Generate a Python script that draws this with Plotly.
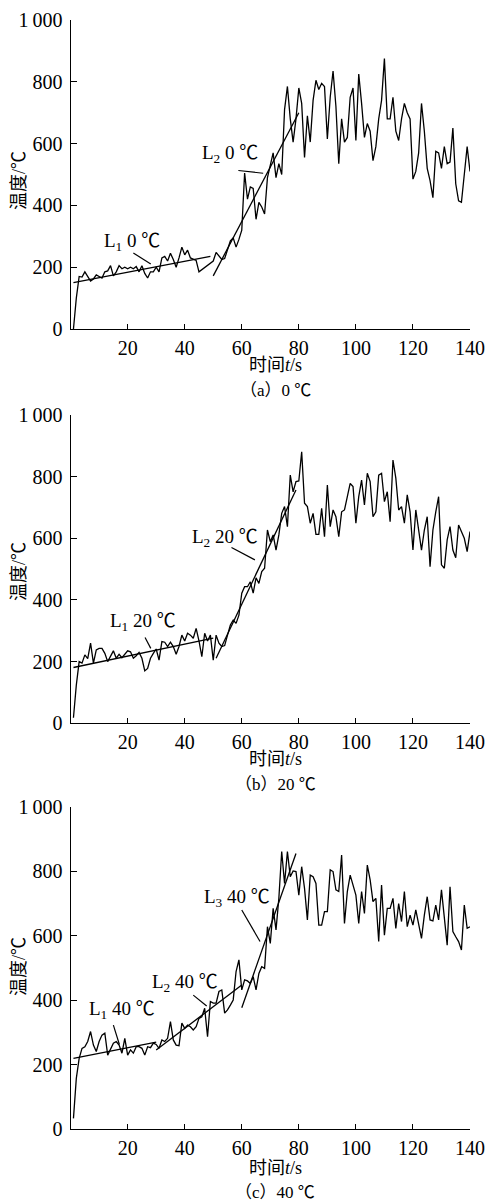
import plotly.graph_objects as go

# ---------------- data ----------------
t_vals = list(range(1, 141))

temp_a = [0, 100, 170, 168, 185, 170, 155, 162, 175, 170,
          165, 185, 188, 205, 172, 185, 205, 195, 200, 195,
          200, 195, 202, 185, 205, 180, 165, 185, 185, 200,
          185, 230, 235, 220, 245, 225, 200, 230, 265, 240,
          255, 230, 225, 222, 185, 192, 200, 207, 212, 220,
          248, 235, 225, 228, 260, 285, 295, 265, 290, 320,
          505, 420, 460, 455, 355, 410, 395, 372, 490, 530,
          570, 490, 535, 500, 710, 785, 680, 605, 680, 780,
          730, 555, 690, 605, 740, 805, 775, 795, 785, 615,
          750, 835, 720, 535, 680, 605, 620, 750, 780, 610,
          825, 730, 620, 665, 640, 545, 590, 680, 740, 875,
          680, 680, 750, 640, 610, 680, 730, 700, 680, 485,
          510, 570, 730, 640, 520, 480, 425, 575, 570, 520,
          590, 535, 540, 650, 470, 415, 410, 500, 590, 510]

temp_b = [18, 124, 200, 195, 222, 210, 260, 195, 238, 243,
          243, 227, 200, 216, 235, 211, 224, 213, 224, 235,
          232, 211, 219, 230, 211, 170, 178, 211, 227, 241,
          205, 265, 263, 249, 263, 249, 224, 249, 286, 267,
          292, 286, 276, 308, 267, 216, 292, 267, 286, 205,
          286, 260, 249, 252, 286, 319, 335, 324, 351, 422,
          443, 443, 459, 422, 472, 454, 492, 503, 627, 589,
          611, 562, 611, 681, 703, 638, 805, 751, 784, 786,
          881, 714, 703, 649, 681, 613, 613, 697, 605, 773,
          638, 692, 670, 605, 686, 692, 735, 778, 768, 649,
          735, 789, 708, 811, 784, 670, 686, 805, 811, 719,
          751, 654, 854, 795, 692, 703, 649, 741, 686, 562,
          692, 632, 562, 627, 670, 508, 627, 686, 735, 514,
          503, 595, 638, 562, 537, 643, 622, 600, 557, 622]

temp_c = [34, 158, 220, 251, 256, 272, 303, 261, 241, 272,
          292, 298, 230, 251, 267, 272, 261, 236, 282, 230,
          246, 236, 256, 256, 251, 230, 256, 253, 267, 263,
          251, 277, 272, 282, 334, 277, 261, 259, 329, 313,
          323, 318, 308, 318, 344, 349, 375, 287, 396, 391,
          391, 427, 432, 360, 370, 385, 401, 489, 525, 432,
          463, 460, 452, 473, 432, 483, 504, 499, 628, 576,
          685, 618, 716, 861, 762, 861, 783, 801, 799, 726,
          814, 747, 649, 788, 783, 762, 633, 633, 675, 675,
          804, 799, 742, 737, 850, 638, 737, 788, 757, 726,
          638, 737, 669, 819, 773, 706, 716, 582, 757, 602,
          685, 685, 716, 623, 700, 644, 737, 628, 664, 633,
          680, 638, 592, 664, 721, 649, 646, 695, 649, 742,
          649, 571, 752, 613, 597, 582, 556, 695, 623, 628]

# fitted lines (start t, end t, start T, end T)
fit_a_t = [[1, 49], [50, 80]]
fit_a_T = [[150, 235], [172, 700]]
fit_b_t = [[1, 50], [51, 79]]
fit_b_T = [[181, 276], [211, 757]]
fit_c_t = [[1, 30], [30, 60], [60, 79]]
fit_c_T = [[220, 270], [246, 447], [377, 855]]

fit_labels_a = ["L<sub>1</sub> 0 ℃", "L<sub>2</sub> 0 ℃"]
fit_labels_b = ["L<sub>1</sub> 20 ℃", "L<sub>2</sub> 20 ℃"]
fit_labels_c = ["L<sub>1</sub> 40 ℃", "L<sub>2</sub> 40 ℃", "L<sub>3</sub> 40 ℃"]

captions = ["（a）0 ℃", "（b）20 ℃", "（c）40 ℃"]
x_ticks = [20, 40, 60, 80, 100, 120, 140]
y_ticks = [0, 200, 400, 600, 800, 1000]
y_tick_text = ["0", "200", "400", "600", "800", "1\u2009000"]

# ---------------- layout constants ----------------
W, H = 487, 1201
FONT = "Liberation Serif, Noto Sans CJK SC"
X_LEFT, X_RIGHT = 70.6, 470.0
TITLE_X = 275
panels_px = [(20.0, 329.0), (415.0, 723.3), (806.7, 1129.3)]
xtitle_px = [365, 759, 1168]
caption_px = [390, 784, 1192]
ytitle_px = [181, 572, 967]

# label positions (data coords) and leader lines
label_pos = [
    [(21.5, 283), (55.9, 567)],
    [(25.5, 330), (54.1, 600)],
    [(17.9, 370), (40.1, 455), (58.2, 716)],
]
leaders = [
    [((22.0, 246), (28.1, 210)), ((58.8, 513), (67.5, 504))],
    [((26.1, 278), (28.1, 243)), ((56.4, 570), (64.6, 530))],
    [((15.0, 323), (17.1, 263)), ((43.0, 416), (47.7, 382)), ((60.0, 680), (66.4, 582))],
]

series = [temp_a, temp_b, temp_c]
fits_t = [fit_a_t, fit_b_t, fit_c_t]
fits_T = [fit_a_T, fit_b_T, fit_c_T]
labels = [fit_labels_a, fit_labels_b, fit_labels_c]

fig = go.Figure()
annotations = []
shapes = []

for i in range(3):
    sfx = "" if i == 0 else str(i + 1)
    xa, ya = "x" + sfx, "y" + sfx
    fig.add_trace(go.Scatter(x=t_vals, y=series[i], mode="lines",
                             line=dict(color="black", width=1.3),
                             xaxis=xa, yaxis=ya, showlegend=False,
                             hoverinfo="skip"))
    for ft, fT in zip(fits_t[i], fits_T[i]):
        fig.add_trace(go.Scatter(x=ft, y=fT, mode="lines",
                                 line=dict(color="black", width=1.3),
                                 xaxis=xa, yaxis=ya, showlegend=False,
                                 hoverinfo="skip"))
    top, bot = panels_px[i]
    fig.layout["xaxis" + sfx] = dict(
        domain=[X_LEFT / W, X_RIGHT / W], anchor=ya, range=[0, 140],
        tickvals=x_ticks, ticks="inside", ticklen=5, tickcolor="black",
        showline=True, linecolor="black", linewidth=1.2, automargin=False,
        showgrid=False, zeroline=False, ticklabelstandoff=1,
        tickfont=dict(family=FONT, size=20, color="black"))
    fig.layout["yaxis" + sfx] = dict(
        domain=[1 - bot / H, 1 - top / H], anchor=xa, range=[0, 1000],
        tickvals=y_ticks, ticktext=y_tick_text, ticks="inside", ticklen=6,
        tickcolor="black", showline=True, linecolor="black", linewidth=1.2,
        showgrid=False, zeroline=False, automargin=False, ticklabelstandoff=3,
        tickfont=dict(family=FONT, size=20, color="black"))
    # axis titles & caption
    annotations.append(dict(text="时间<i>t</i>/s", x=TITLE_X / W,
                            y=1 - xtitle_px[i] / H, xref="paper", yref="paper",
                            showarrow=False, xanchor="center", yanchor="middle",
                            font=dict(family=FONT, size=18, color="black")))
    annotations.append(dict(text=captions[i], x=TITLE_X / W,
                            y=1 - caption_px[i] / H, xref="paper", yref="paper",
                            showarrow=False, xanchor="center", yanchor="middle",
                            font=dict(family=FONT, size=17, color="black")))
    annotations.append(dict(text="温度/℃", x=19 / W, y=1 - ytitle_px[i] / H,
                            xref="paper", yref="paper", textangle=-90,
                            showarrow=False, xanchor="center", yanchor="middle",
                            font=dict(family=FONT, size=18, color="black")))
    for lab, (lx, ly) in zip(labels[i], label_pos[i]):
        annotations.append(dict(text=lab, x=lx, y=ly, xref=xa, yref=ya,
                                showarrow=False, xanchor="center", yanchor="middle",
                                font=dict(family=FONT, size=19, color="black")))
    for (p0, p1) in leaders[i]:
        shapes.append(dict(type="line", xref=xa, yref=ya,
                           x0=p0[0], y0=p0[1], x1=p1[0], y1=p1[1],
                           line=dict(color="black", width=1.2)))

fig.update_layout(template="none", width=W, height=H,
                  margin=dict(l=0, r=0, t=0, b=0, pad=0, autoexpand=False),
                  paper_bgcolor="white", plot_bgcolor="white",
                  annotations=annotations, shapes=shapes, showlegend=False,
                  font=dict(family=FONT, color="black"))

fig.write_html("out.html", config={"displayModeBar": False},
               post_script="document.body.style.margin='0';"
                           "document.body.style.overflow='hidden';")
